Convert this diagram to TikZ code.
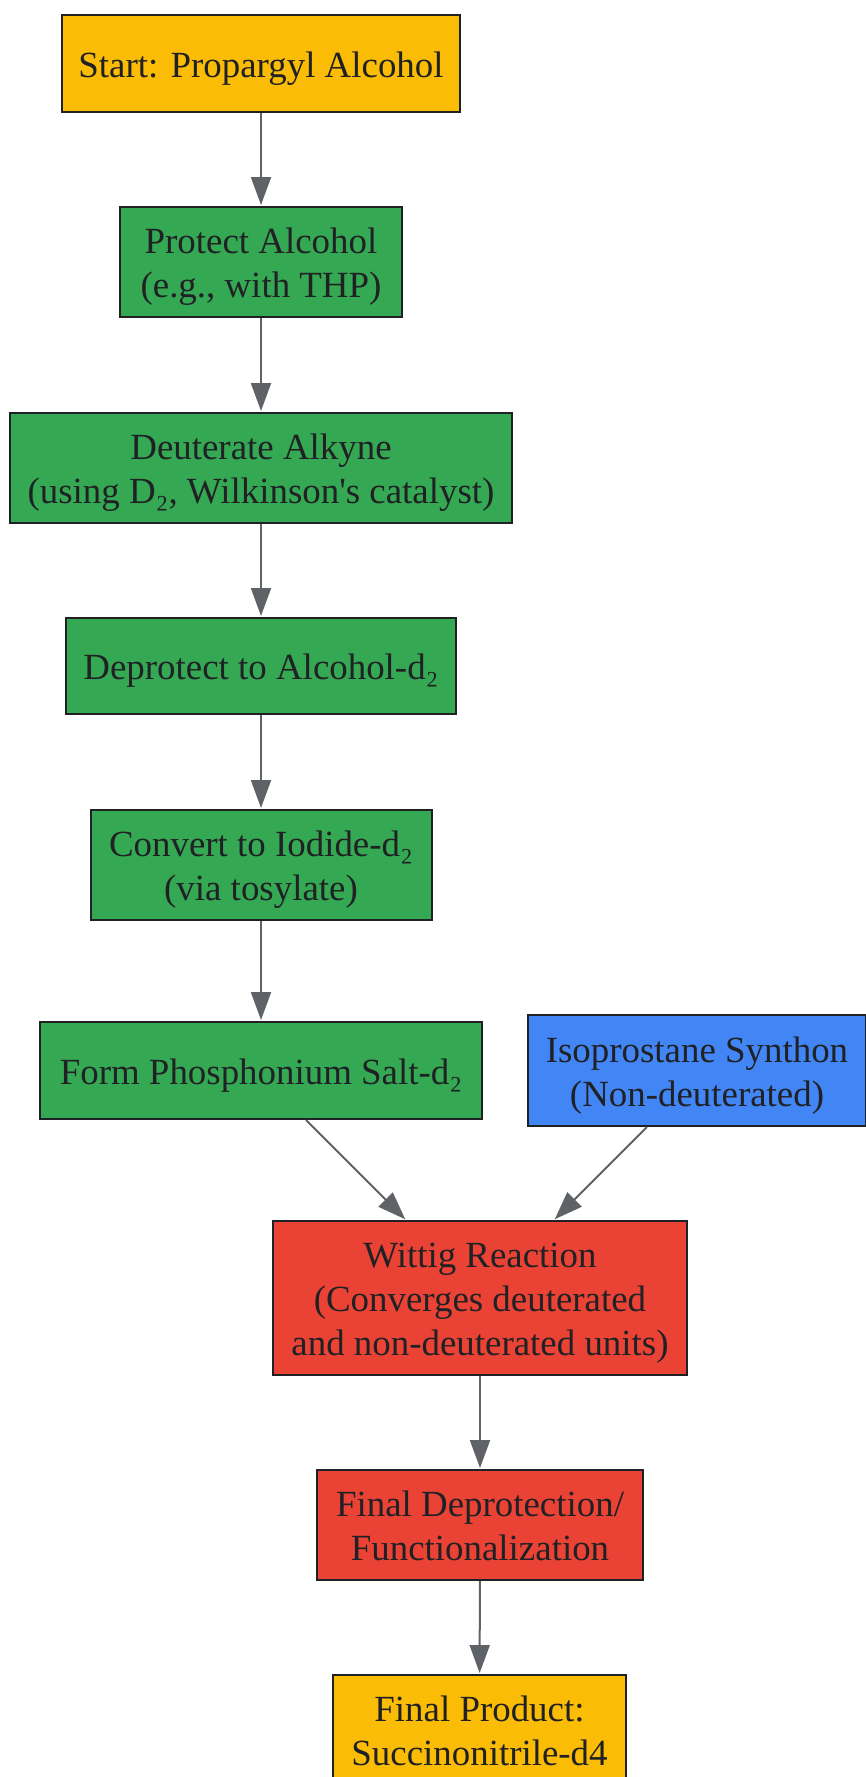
\documentclass[tikz,border=0pt]{standalone}
\usepackage{fontspec}
\setmainfont{Liberation Serif}[Ligatures=TeXOff]
\usetikzlibrary{arrows.meta,calc}
\definecolor{cyellow}{HTML}{FBBC05}
\definecolor{cgreen}{HTML}{34A853}
\definecolor{cblue}{HTML}{4285F4}
\definecolor{cred}{HTML}{EA4335}
\definecolor{ctext}{HTML}{202124}
\definecolor{cedge}{HTML}{5F6368}
\newcommand\tstrut{\rule{0pt}{37.4pt}}
\tikzset{
  box/.style={draw=ctext, line width=2pt, rectangle, align=center, inner sep=0pt,
    text=ctext, font=\fontsize{36.9}{44}\selectfont,
    execute at end node={\rule[-10pt]{0pt}{10pt}}},
  yellowbox/.style={box, fill=cyellow},
  greenbox/.style={box, fill=cgreen},
  bluebox/.style={box, fill=cblue},
  redbox/.style={box, fill=cred},
  conn/.style={draw=cedge, line width=2pt, -{Triangle[length=28pt,width=20pt]}, shorten >=1pt}
}
\begin{document}
\begin{tikzpicture}[x=1pt,y=-1pt]
\useasboundingbox (0,0) rectangle (865,1777);
\node[yellowbox, minimum width=398pt, minimum height=97pt] (start) at (261,63.5) {\tstrut Start: Propargyl Alcohol};
\node[greenbox, minimum width=282pt, minimum height=110pt] (protect) at (261,262) {\tstrut Protect Alcohol\\(e.g., with THP)};
\node[greenbox, minimum width=502pt, minimum height=110pt] (deut) at (261,468) {\tstrut Deuterate Alkyne\\(using D₂, Wilkinson's catalyst)};
\node[greenbox, minimum width=390pt, minimum height=96pt] (deprot) at (261,666) {\tstrut Deprotect to Alcohol-d₂};
\node[greenbox, minimum width=341pt, minimum height=110pt] (conv) at (261,865) {\tstrut Convert to Iodide-d₂\\(via tosylate)};
\node[greenbox, minimum width=442pt, minimum height=97pt] (form) at (261,1070.5) {\tstrut Form Phosphonium Salt-d₂};
\node[bluebox, minimum width=338pt, minimum height=111pt] (iso) at (697,1070.5) {\tstrut Isoprostane Synthon\\(Non-deuterated)};
\node[redbox, minimum width=414pt, minimum height=154pt] (wittig) at (480,1298) {\tstrut Wittig Reaction\\(Converges deuterated\\and non-deuterated units)};
\node[redbox, minimum width=326pt, minimum height=110pt] (fdep) at (480,1525) {\tstrut Final Deprotection/\\Functionalization};
\node[yellowbox, minimum width=293pt, minimum height=110pt] (fprod) at (479.5,1730) {\tstrut Final Product:\\Succinonitrile-d4};
\draw[conn] (start) -- (protect);
\draw[conn] (protect) -- (deut);
\draw[conn] (deut) -- (deprot);
\draw[conn] (deprot) -- (conv);
\draw[conn] (conv) -- (form);
\draw[conn] ($(form.south)+(45,0)$) -- ($(wittig.north)+(-74,0)$);
\draw[conn] ($(iso.south)+(-50,0)$) -- ($(wittig.north)+(74,0)$);
\draw[conn] (wittig) -- (fdep);
\draw[conn] (fdep) -- (fprod);
\end{tikzpicture}
\end{document}
